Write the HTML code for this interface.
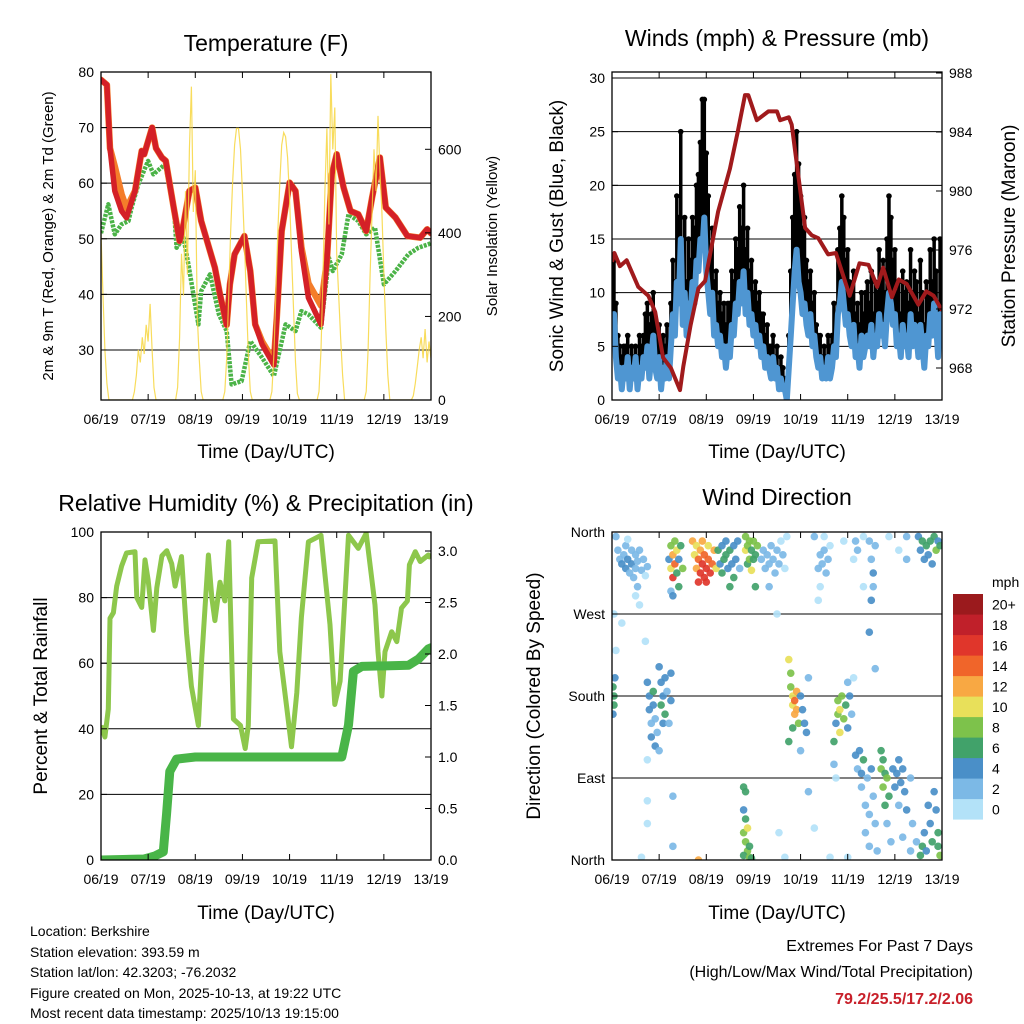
<!DOCTYPE html>
<html><head><meta charset="utf-8"><style>
html,body{margin:0;padding:0;background:#fff}
svg{display:block;font-family:"Liberation Sans",Arial,sans-serif}
</style></head><body>
<svg id="s" width="1024" height="1024" viewBox="0 0 1024 1024" xmlns="http://www.w3.org/2000/svg">
<defs>
<clipPath id="c1"><rect x="101" y="72" width="330" height="328"/></clipPath>
<clipPath id="c2"><rect x="612" y="72" width="330" height="328"/></clipPath>
<clipPath id="c3"><rect x="101" y="532" width="330" height="328"/></clipPath>
<clipPath id="c4"><rect x="612" y="532" width="330" height="328"/></clipPath>
</defs>
<g id="g1" clip-path="url(#c1)"></g>
<g id="g2" clip-path="url(#c2)"></g>
<g id="g3" clip-path="url(#c3)"></g>
<g id="g4" clip-path="url(#c4)"></g>
<g id="axes"></g>

<text x="266" y="51" font-size="23" text-anchor="middle">Temperature (F)</text>
<text x="777" y="46" font-size="23" text-anchor="middle">Winds (mph) &amp; Pressure (mb)</text>
<text x="266" y="511" font-size="23" text-anchor="middle">Relative Humidity (%) &amp; Precipitation (in)</text>
<text x="777" y="505" font-size="23" text-anchor="middle">Wind Direction</text>

<text x="266" y="458" font-size="19" text-anchor="middle">Time (Day/UTC)</text>
<text x="777" y="458" font-size="19" text-anchor="middle">Time (Day/UTC)</text>
<text x="266" y="919" font-size="19" text-anchor="middle">Time (Day/UTC)</text>
<text x="777" y="919" font-size="19" text-anchor="middle">Time (Day/UTC)</text>

<text transform="translate(53,236) rotate(-90)" font-size="15" text-anchor="middle">2m &amp; 9m T (Red, Orange) &amp; 2m Td (Green)</text>
<text transform="translate(497,236) rotate(-90)" font-size="15" text-anchor="middle">Solar Insolation (Yellow)</text>
<text transform="translate(563,236) rotate(-90)" font-size="19" text-anchor="middle">Sonic Wind &amp; Gust (Blue, Black)</text>
<text transform="translate(1015,236) rotate(-90)" font-size="19" text-anchor="middle">Station Pressure (Maroon)</text>
<text transform="translate(47,696) rotate(-90)" font-size="19" text-anchor="middle">Percent &amp; Total Rainfall</text>
<text transform="translate(540,696) rotate(-90)" font-size="19" text-anchor="middle">Direction (Colored By Speed)</text>

<g font-size="14">
<text x="30" y="936">Location: Berkshire</text>
<text x="30" y="957">Station elevation: 393.59 m</text>
<text x="30" y="977">Station lat/lon: 42.3203; -76.2032</text>
<text x="30" y="998">Figure created on Mon, 2025-10-13, at 19:22 UTC</text>
<text x="30" y="1018">Most recent data timestamp: 2025/10/13 19:15:00</text>
</g>
<text x="973" y="951" font-size="16" text-anchor="end">Extremes For Past 7 Days</text>
<text x="973" y="977" font-size="16" text-anchor="end">(High/Low/Max Wind/Total Precipitation)</text>
<text x="973" y="1004" font-size="16" font-weight="bold" fill="#c8202a" text-anchor="end">79.2/25.5/17.2/2.06</text>
<text x="992" y="587" font-size="14">mph</text>
<g id="cbar"></g>
</svg>
<script>
const NS="http://www.w3.org/2000/svg";
// ---- data ----
const dayLabels=["06/19","07/19","08/19","09/19","10/19","11/19","12/19","13/19"];
const tTime=[0,3,4.6,7,10.5,13,17.3,20.7,22,26,28,31,33,37,40,42,45,48,51,55.5,58,60.6,64,65.6,68,73,76,78.5,82,88,89.5,92,96,99,102,105.6,112,115,117.5,120,123.5,127,131,135,138,142,145,150,156,162.5,166,168];
const tRed=[78.6,77.7,66.3,58.6,55,53.8,58.6,65.8,65.2,70,66.3,64.6,64,55.6,49.6,52.6,58.6,59.2,53.2,47.8,44.8,40,34.5,41.8,47.2,50.5,44.2,34.6,31,27.3,35.8,51.4,60.1,58.6,47.8,39.4,34.6,46,61.6,65.2,59.2,55,54.4,51.4,57.4,64.6,55.6,53.8,50.5,50.2,51.7,51];
const tOrange=[78.6,77.7,66.3,63,58,55.5,58.6,65.8,65.2,70,66.3,64.6,64,55.6,49.6,52.6,58.6,59.2,53.2,47.8,44.8,40,34.5,41.8,47.2,50.5,44.2,34.6,31.5,28,35.8,51.4,60.1,58.6,48.5,42,38,46,61.6,65.2,59.2,55,54.4,51.4,57.4,64.6,55.6,53.8,50.5,50.2,51.7,51];
const dTime=[0,3.7,7,10.5,14,15.6,19,24,26.7,32.6,37,38.5,42,44.5,49.6,51,55.5,60,64,66.5,71.6,76,82,88,94,99,102,105.6,112,116,118,122.6,126,131,135,139.5,144,150,156.5,161.6,166.7,168];
const tDew=[51,56.2,50.8,52.6,53.2,55.6,59.8,64,61.6,63.4,56.2,48.4,50.2,45.4,34.6,40.6,43.6,36.4,33.4,23.8,24.4,31.6,28.6,25.3,34.6,33.4,37,36.4,34,46.6,44.2,47.2,54.4,53.2,50.8,52,41.8,44.2,47.2,48.4,49,49.2];
const solar=[400,250,120,40,0,0,0,0,0,0,0,0,0,0,0,0,0,
20,60,120,90,150,110,180,140,230,120,30,0,
0,0,0,0,0,0,0,0,0,0,
30,150,350,250,500,300,600,750,450,550,200,100,20,0,
0,0,0,0,0,0,0,0,0,0,
20,100,250,400,520,610,650,650,600,500,380,240,110,20,0,
0,0,0,0,0,0,0,0,0,
20,110,250,400,520,610,640,630,580,480,350,220,90,15,0,
0,0,0,0,0,0,0,0,0,
20,120,300,500,650,420,780,600,700,350,250,150,60,0,
0,0,0,0,0,0,0,0,0,0,
20,120,300,450,600,500,680,550,450,300,170,60,0,
0,0,0,0,0,0,0,0,0,0,0,
10,40,80,120,150,100,170,90,140,100];
const wind=[6,8,4,2,3,1,3,2,4,1,3,2,4,1,3,2,4,3,5,2,4,6,3,2,4,1,3,2,4,2,5,8,6,11,9,15,7,10,6,9,8,11,9,13,12,15,14,17,12,10,8,10,6,7,5,6,4,5,3,5,4,7,6,9,8,11,9,12,8,10,7,8,6,7,5,6,4,5,3,4,3,2,4,2,3,1,2,1,1,0,3,6,9,12,14,11,10,8,9,7,6,8,5,6,4,3,4,2,3,2,4,2,3,5,4,8,9,11,9,7,8,6,5,7,4,5,3,6,4,5,6,5,7,4,6,5,8,6,7,5,8,10,9,7,8,5,6,4,7,5,6,4,8,5,7,6,4,7,5,3,6,5,8,6,9,7,4,8,6];
const gust=[12,13,9,6,5,4,5,5,6,4,5,4,5,4,6,5,6,8,9,7,8,10,7,6,7,5,6,5,7,5,9,13,11,19,17,25,14,17,11,15,13,17,16,20,21,24,28,28,23,19,14,16,11,12,9,10,8,9,7,9,9,12,11,15,14,18,16,20,14,16,12,13,10,11,9,10,8,8,6,7,5,5,6,4,5,3,4,3,2,2,6,12,17,21,25,22,19,16,17,13,11,12,9,10,7,6,6,4,5,4,6,5,6,9,8,14,16,19,17,13,14,11,10,12,8,9,7,10,8,10,11,9,12,8,11,10,14,12,13,10,15,19,17,13,14,10,11,8,12,10,11,9,14,10,12,11,8,13,10,7,11,10,14,11,15,12,9,15,12];
const pTime=[0,1.2,4,7.5,13.4,18.5,22,26,30,34.6,36.3,40,44,47.4,54,60,64,67.7,69.4,73.7,79.6,84,85.6,90,91.5,95,98.3,101.7,105,110,114,121,126,130.6,135,138,142.5,146,150,156,160,163.7,168];
const pres=[975.2,975.8,974.9,975.3,973.5,972.9,971.8,968.7,968,966.5,968.1,970.9,973.4,973.9,978.6,981.5,984,986.5,986.5,984.8,985.4,985.4,984.8,985,984.5,980.9,977.5,977,976.8,975.7,975.8,972.9,975.1,975,973.5,974.8,972.8,974,973.7,972.3,973.2,972.9,971.9];
const rhTime=[0,2,3.7,4.6,6.3,8,10.5,13,17.3,18.2,20.7,22.4,24,26.7,28.4,31,33.5,36,37.7,41,43.6,46,49.6,51.3,54.7,56.4,58,60.6,63,65,67.4,71,73.4,75,76.7,80,88.6,91,94.6,97,99.7,102,105.6,112,116.6,119,121.7,126,131,135,139.5,141,143,144.6,148,150.6,153,156,157,160,162.5,166.7,168];
const rh=[41,37.5,46,73.7,75.4,83.5,89.6,93.6,94,80,77,91.5,85.5,70,83,92.7,94.3,90.3,83.5,92.5,69,53,41,61.6,93,80,73,84.7,79,97,43,41,34,41,86,97,97.3,63.5,46.3,34.5,51,74,97,99,71.7,47.4,54.5,99,95,99.6,77.7,63.5,50,63.5,69.6,66.6,76.8,79,90,94,91,93,92];
const prTime=[0,22,27.5,31.7,33.4,35,38.5,48,122.6,126,128.5,132.8,156.5,161.6,166.7,168];
const precip=[0,0.01,0.04,0.08,0.45,0.86,0.98,1.0,1.0,1.31,1.83,1.88,1.89,1.95,2.05,2.06];
const dirTime=[3,4,5,6,7,7,8,9,10,10,11,12,12,13,14,15,16,17,18,13,12,14,2,8,1,2,17,5,
29,30,30,31,31,32,32,33,33,34,34,35,36,30,31,
41,42,43,43,44,45,45,46,46,47,47,48,49,49,50,51,52,53,44,48,
54,55,56,56,57,58,58,59,60,61,62,62,63,64,65,60,
68,68,69,69,70,70,71,71,72,72,73,73,74,
76,77,78,79,80,81,82,83,84,85,86,87,88,89,80,84,
105,106,107,108,109,110,111,108,106,105,
124,125,123,128,131,132,133,133,132,134,131,134,
156,157,158,159,160,161,162,163,164,165,166,167,150,150,146,141,128,118,103,
0.5,1,1,0.5,1.5,
18,19,19,20,20,21,21,22,22,25,25,26,26,27,27,28,29,30,30,24,23,18,24,
90,91,91,92,92,93,93,94,94,95,92,90,96,97,98,99,96,100,
113,114,115,115,116,116,117,118,119,120,121,122,120,113,114,
124,125,126,127,127,128,129,129,130,131,131,132,133,134,135,137,137,138,138,139,139,140,141,140,142,143,144,145,146,146,147,148,149,150,148,152,152,153,155,157,158,159,160,161,162,163,164,165,166,167,166,
67,68,67,68,67,68,69,67,70,70,71,69,
44,18,18,31,31,85,88,100,103,111,120,123,15];
const dirDeg=[340,330,325,335,320,345,330,315,340,325,310,335,320,328,340,318,330,312,322,300,290,280,355,352,270,230,240,260,
330,345,320,310,335,350,325,315,340,300,330,345,320,295,290,
350,335,320,345,330,315,340,325,350,310,335,320,330,345,315,325,340,320,305,305,
340,325,345,315,330,335,350,320,340,325,310,345,330,350,320,300,
355,340,345,325,350,330,340,318,350,330,335,300,345,
330,340,320,335,325,345,330,315,340,325,350,335,320,355,300,270,
320,335,325,340,315,330,345,355,300,285,
350,340,330,300,350,330,315,300,285,345,250,210,
355,340,350,330,345,335,350,325,355,340,350,345,355,330,340,355,355,350,355,
190,180,170,160,200,
195,180,165,150,135,185,170,155,125,195,170,180,150,160,200,185,150,175,205,120,140,110,212,
220,205,190,180,170,160,175,185,165,150,145,130,180,165,150,140,120,200,
130,150,160,175,140,165,180,155,170,145,180,160,195,105,90,
115,100,120,95,80,110,60,30,90,50,15,100,70,40,10,120,100,110,80,95,60,90,70,40,20,100,80,95,60,110,85,100,75,55,25,90,10,40,20,5,15,30,10,60,40,20,75,55,30,5,15,
80,75,55,45,30,20,10,5,15,3,2,35,
0,65,40,70,15,30,3,75,35,3,3,200,3];
const dirSpd=[3,2,4,3,4,2,4,3,2,4,2,3,2,3,2,2,3,1,2,2,1,1,2,1,1,1,1,1,
4,8,10,16,12,8,14,7,10,6,5,6,8,2,4,
12,11,13,11,15,17,12,16,12,17,15,16,14,11,16,14,12,10,16,16,
6,5,4,6,7,6,5,4,6,5,6,4,5,4,3,6,
9,10,8,7,9,8,7,10,8,6,7,7,8,
3,3,2,3,3,2,3,3,2,2,1,2,1,1,2,1,
2,2,3,2,2,2,1,1,1,1,
3,2,1,1,3,3,4,2,4,2,4,2,
5,5,6,4,7,5,6,4,7,8,5,6,3,2,1,1,1,1,2,
6,6,7,4,4,
4,5,4,3,4,6,4,3,4,5,7,5,4,6,4,3,3,4,4,2,2,1,4,
10,8,9,10,11,12,14,12,13,9,6,6,4,4,5,4,2,2,
6,5,9,8,10,10,9,8,7,5,4,3,3,2,1,
4,3,4,5,3,7,2,3,3,2,3,4,3,2,3,7,8,6,9,7,6,8,6,3,2,4,5,4,3,4,5,5,4,4,3,3,2,3,3,6,7,5,4,4,5,7,5,4,6,8,7,
6,6,4,6,8,9,8,6,7,8,6,10,
13,1,1,2,2,1,1,2,1,1,1,1,1];
const speedColors=["#b3e2f8","#7cb9e6","#4a8fc8","#41a26a","#7dc24b","#e8e05a","#f8a843","#f0652a","#e0362b","#c0202a","#9b1a1d"];
const speedLabels=["0","2","4","6","8","10","12","14","16","18","20+"];
const tempTicks=[30,40,50,60,70,80];
const solarTicks=[0,200,400,600];
const windTicks=[0,5,10,15,20,25,30];
const presTicks=[968,972,976,980,984,988];
const rhTicks=[0,20,40,60,80,100];
const prTicks=[0,0.5,1,1.5,2,2.5,3];
const dirTicks=[0,90,180,270,360];
const dirLabels=["North","East","South","West","North"];

// ---- scales ----
const xL=h=>101+h*330/168, xR=h=>612+h*330/168;
const yT=t=>72+(80-t)*328/59;
const yS=s=>400-s*328/785;
const yW=m=>400-m*328/30.56;
const yP=p=>368-(p-968)*14.75;
const yRH=r=>860-r*3.28;
const yPr=p=>860-p*103;
const yD=d=>860-d*328/360;

function mk(tag,attrs,parent){const e=document.createElementNS(NS,tag);for(const k in attrs)e.setAttribute(k,attrs[k]);parent.appendChild(e);return e;}
function pathD(xs,ys,fx,fy){let d="";for(let i=0;i<xs.length;i++)d+=(i?"L":"M")+fx(xs[i]).toFixed(1)+" "+fy(ys[i]).toFixed(1);return d;}
const G1=document.getElementById('g1'),G2=document.getElementById('g2'),G3=document.getElementById('g3'),G4=document.getElementById('g4'),AX=document.getElementById('axes');
const hours=solar.map((v,i)=>i);

// ---- panel 1 ----
tempTicks.forEach(t=>{const g=mk('line',{x1:101,x2:431,y1:yT(t),y2:yT(t),stroke:'#000','stroke-width':1},G1);

});
let e;
e=mk('path',{d:pathD(dTime,tDew,xL,yT),fill:'none',stroke:'#4bb347','stroke-width':4.5,'stroke-dasharray':'3 1.2','stroke-linejoin':'round'},G1);


e=mk('path',{d:pathD(tTime,tOrange,xL,yT),fill:'none',stroke:'#f47d2a','stroke-width':6.5,'stroke-linejoin':'round','stroke-linecap':'round'},G1);


e=mk('path',{d:pathD(tTime,tRed,xL,yT),fill:'none',stroke:'#d42027','stroke-width':5.5,'stroke-linejoin':'round','stroke-linecap':'round'},G1);


e=mk('path',{d:pathD(hours,solar,xL,yS),fill:'none',stroke:'#f7d640','stroke-width':1.2,opacity:0.85},G1);



// ---- panel 2 ----
windTicks.forEach(t=>{const g=mk('line',{x1:612,x2:942,y1:yW(t),y2:yW(t),stroke:'#000','stroke-width':1},G2);

});
gust.forEach((g,i)=>{const s=mk('line',{x1:xR(i),x2:xR(i),y1:yW(wind[i]),y2:yW(g),stroke:'#000','stroke-width':3.5},G2);


const c=mk('circle',{cx:xR(i),cy:yW(g),r:2.8,fill:'#000'},G2);

});
e=mk('path',{d:pathD(hours,wind,xR,yW),fill:'none',stroke:'#4f96d2','stroke-width':6,'stroke-linejoin':'round'},G2);


e=mk('path',{d:pathD(pTime,pres,xR,yP),fill:'none',stroke:'#a01a1c','stroke-width':4,'stroke-linejoin':'round'},G2);



// ---- panel 3 ----
rhTicks.forEach(t=>{const g=mk('line',{x1:101,x2:431,y1:yRH(t),y2:yRH(t),stroke:'#000','stroke-width':1},G3);

});
e=mk('path',{d:pathD(rhTime,rh,xL,yRH),fill:'none',stroke:'#8dc74c','stroke-width':5,'stroke-linejoin':'round'},G3);


e=mk('path',{d:pathD(prTime,precip,xL,yPr),fill:'none',stroke:'#49b548','stroke-width':9,'stroke-linejoin':'round','stroke-linecap':'round'},G3);



// ---- panel 4 ----
[90,180,270].forEach(t=>{const g=mk('line',{x1:612,x2:942,y1:yD(t),y2:yD(t),stroke:'#000','stroke-width':1},G4);

});
dirTime.forEach((h,i)=>{const ci=Math.min(10,Math.floor(dirSpd[i]/2));const c=mk('circle',{cx:xR(h),cy:yD(dirDeg[i]),r:3.8,fill:speedColors[ci],opacity:0.92},G4);

});

// ---- axes ----
function frame(x0,y0){const r=mk('rect',{x:x0,y:y0,width:330,height:328,fill:'none',stroke:'#000','stroke-width':1.3},AX);


dayLabels.forEach((lab,i)=>{const x=x0+i*330/7;
mk('line',{x1:x,x2:x,y1:y0+328,y2:y0+322,stroke:'#000'},AX);
mk('line',{x1:x,x2:x,y1:y0,y2:y0+6,stroke:'#000'},AX);
const t=mk('text',{x:x,y:y0+352,'font-size':14,'text-anchor':'middle'},AX);t.textContent=lab;

});}
frame(101,72);frame(612,72);frame(101,532);frame(612,532);
function yticks(vals,fy,x,anchor,side,fmt,labels){vals.forEach((v,i)=>{const y=fy(v);
mk('line',{x1:x,x2:x+(side<0?6:-6),y1:y,y2:y,stroke:'#000'},AX);
const t=mk('text',{x:x+(side<0?-7:7),y:y+5,'font-size':14,'text-anchor':anchor},AX);t.textContent=labels?labels[i]:fmt(v);

});}
yticks(tempTicks,yT,101,'end',-1,v=>v);
yticks(solarTicks,yS,431,'start',1,v=>v);
yticks(windTicks,yW,612,'end',-1,v=>v);
yticks(presTicks,yP,942,'start',1,v=>v);
yticks(rhTicks,yRH,101,'end',-1,v=>v);
yticks(prTicks,yPr,431,'start',1,v=>v.toFixed(1));
yticks(dirTicks,yD,612,'end',-1,v=>v,dirLabels);

// ---- colorbar ----
const CB=document.getElementById('cbar');
speedColors.forEach((c,i)=>{const y=594+(10-i)*20.5;
const r=mk('rect',{x:953,y:y,width:30,height:20.6,fill:c},CB);


const t=mk('text',{x:992,y:y+15.5,'font-size':14},CB);t.textContent=speedLabels[i];

});
</script>
</body></html>
